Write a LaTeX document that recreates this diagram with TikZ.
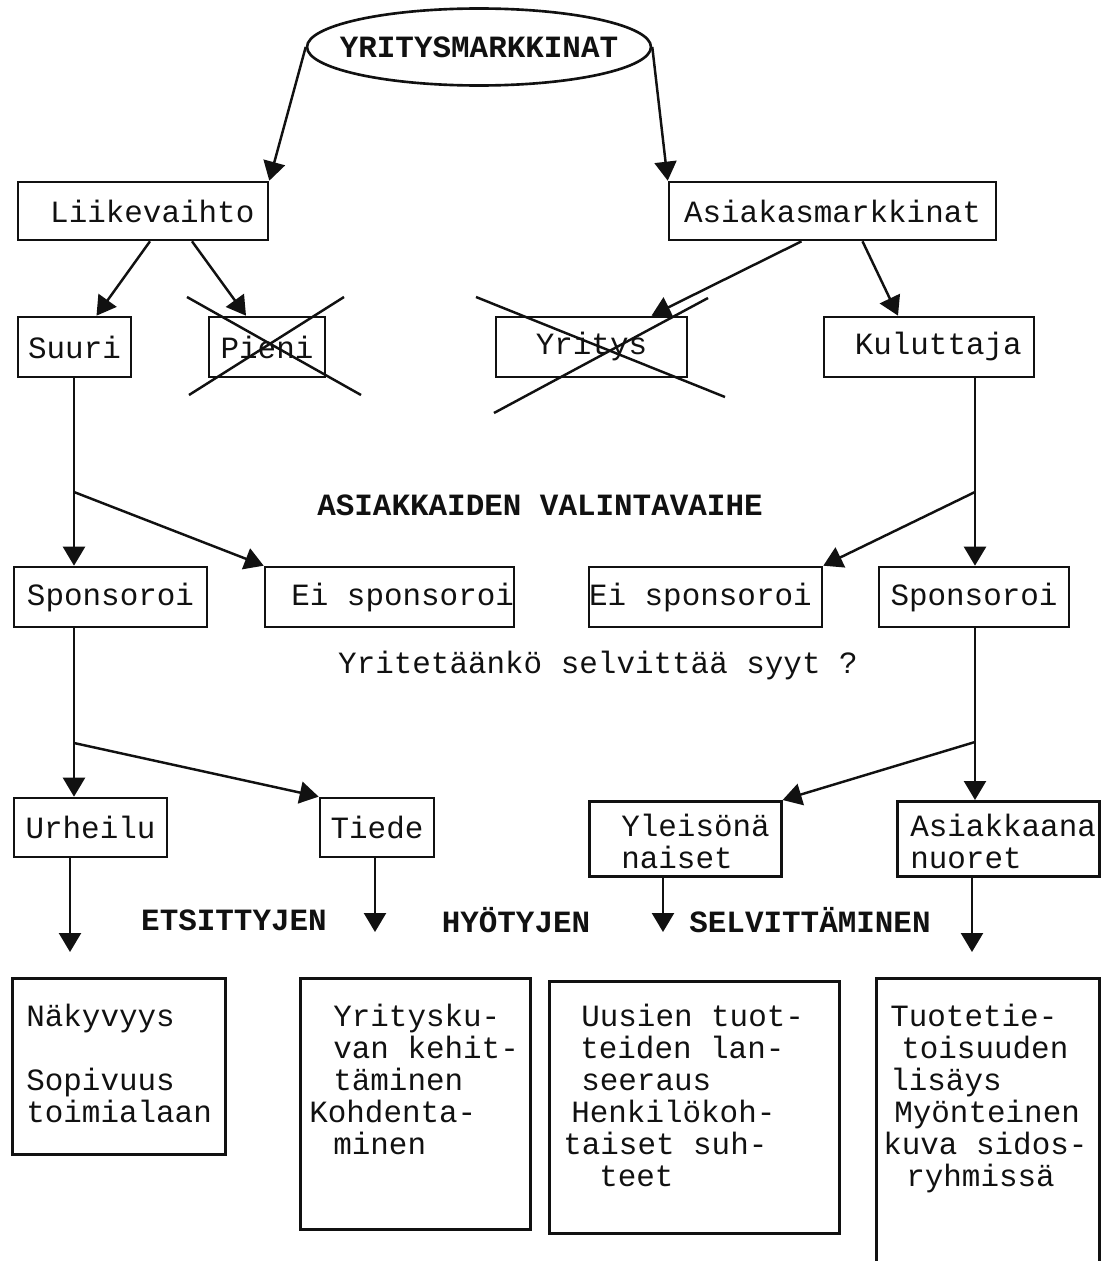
\documentclass[tikz,border=0pt]{standalone}
\usepackage{fontspec}
\usepackage{tikz}
\usetikzlibrary{arrows.meta,positioning,calc,shapes.geometric}
\newfontfamily\courier[WordSpace={1,0,0}]{Liberation Mono}
\definecolor{ink}{HTML}{111111}

\begin{document}
\begin{tikzpicture}[x=0.02cm,y=-0.02cm,
    box/.style={draw=ink,line width=1.5pt,inner sep=0pt,text=ink,font={\courier\fontsize{17.6}{18.2}\selectfont},
      execute at begin node={\spaceskip=0pt\xspaceskip=0pt}},
    plain/.style={inner sep=0pt,text=ink,font={\courier\fontsize{17.6}{18.2}\selectfont}},
    head/.style={inner sep=0pt,text=ink,font={\courier\bfseries\fontsize{17.6}{18.2}\selectfont}},
    multibox/.style={box,anchor=north west,align=left,text height=0.96cm},
    link/.style={draw=ink,line width=1.4pt},
    arr/.style={link,-{Triangle[length=0.38cm,width=0.44cm]}},
    cross/.style={draw=ink,line width=1.4pt}]
  \useasboundingbox (0,0) rectangle (1101,1261);
  \node[box,head,ellipse,minimum width=6.88cm,minimum height=1.54cm] (markk) at (479,47)
    {\makebox[4cm]{YRITYSMARKKINAT}};
  \node[box,minimum width=5cm,minimum height=1.16cm] (liike) at (143,211) {\ Liikevaihto};
  \node[box,minimum width=6.54cm,minimum height=1.16cm] (asiak) at (832.5,211) {Asiakasmarkkinat};
  \node[box,minimum width=2.26cm,minimum height=1.2cm] (suuri) at (74.5,347) {Suuri};
  \node[box,minimum width=2.32cm,minimum height=1.2cm] (pieni) at (267,347) {Pieni};
  \node[box,minimum width=3.82cm,minimum height=1.2cm] (yritys) at (591.5,347) {Yritys};
  \node[box,minimum width=4.2cm,minimum height=1.2cm] (kulu) at (929,347) {\ Kuluttaja};
  \node[box,minimum width=3.86cm,minimum height=1.2cm] (spL) at (110.5,597) {Sponsoroi};
  \node[box,text width=4.98cm,align=right,minimum height=1.2cm] (eiL) at (389.5,597) {Ei sponsoroi};
  \node[box,text width=4.66cm,align=left,minimum height=1.2cm] (eiR) at (705.5,597) {Ei sponsoroi};
  \node[box,minimum width=3.8cm,minimum height=1.2cm] (spR) at (974,597) {Sponsoroi};
  \node[box,minimum width=3.06cm,minimum height=1.18cm] (urh) at (90.5,827.5) {Urheilu};
  \node[box,minimum width=2.28cm,minimum height=1.18cm] (tiede) at (377,827.5) {Tiede};
  \node[multibox,text width=3.84cm,text height=0.7cm,text depth=0.8cm] (yleis) at (588,800)
    {\hspace*{0.64cm}Yleisönä\\\hspace*{0.64cm}naiset};
  \node[multibox,text width=4.04cm,text height=0.7cm,text depth=0.8cm] (asnuo) at (896,800)
    {\hspace*{0.26cm}Asiakkaana\\\hspace*{0.26cm}nuoret};

  \node[head] (valinta) at (540,505) {ASIAKKAIDEN VALINTAVAIHE};
  \node[plain] (syyt) at (598,665) {Yritetäänkö selvittää syyt ?};
  \node[head] (etsi) at (234,920) {ETSITTYJEN};
  \node[head] (hyoty) at (516,920) {HYÖTYJEN};
  \node[head] (selv) at (810,920) {SELVITTÄMINEN};

  \node[multibox,text width=4.26cm,text depth=2.56cm] (nak) at (11,977)
    {\hspace*{0.28cm}Näkyvyys\\[0.64cm]\hspace*{0.28cm}Sopivuus\\\hspace*{0.28cm}toimialaan};
  \node[multibox,text width=4.6cm,text depth=4.06cm] (yrk) at (299,977)
    {\hspace*{0.66cm}Yritysku-\\\hspace*{0.66cm}van kehit-\\\hspace*{0.66cm}täminen\\
     \hspace*{0.18cm}Kohdenta-\\\hspace*{0.66cm}minen};
  \node[multibox,text width=5.8cm,text height=0.9cm,text depth=4.14cm] (uus) at (548,980)
    {\hspace*{0.64cm}Uusien tuot-\\\hspace*{0.62cm}teiden lan-\\\hspace*{0.64cm}seeraus\\
     \hspace*{0.44cm}Henkilökoh-\\\hspace*{0.28cm}taiset suh-\\\hspace*{1cm}teet};
  \node[multibox,text width=4.46cm,text depth=5.56cm] (tuo) at (875,977)
    {\hspace*{0.28cm}Tuotetie-\\\hspace*{0.5cm}toisuuden\\\hspace*{0.28cm}lisäys\\
     \hspace*{0.36cm}Myönteinen\\\hspace*{0.14cm}kuva sidos-\\\hspace*{0.6cm}ryhmissä};

  \draw[arr] (markk.west) -- (liike.north east);
  \draw[arr] (markk.east) -- (asiak.north west);
  \draw[arr] ($(liike.south)+(7,0)$) -- ($(suuri.north)+(22,0)$);
  \draw[arr] ($(liike.south)+(49,0)$) -- ($(pieni.north)+(-21,0)$);
  \draw[arr] ($(asiak.south)+(-31,0)$) -- ($(yritys.north)+(60,0)$);
  \draw[arr] ($(asiak.south)+(30,0)$) -- ($(kulu.north)+(-31,0)$);

  \draw[cross] (189,395) -- (344,297);
  \draw[cross] (187,297) -- (361,395);
  \draw[cross] (476,297) -- (725,397);
  \draw[cross] (494,413) -- (708,298);

  \coordinate (splitA) at (74,492);
  \coordinate (splitB) at (975,492);
  \coordinate (splitC) at (74,743);
  \coordinate (splitD) at (975,742);
  \draw[link] (suuri.south -| splitA) -- (splitA);
  \draw[arr] (splitA) -- (splitA |- spL.north);
  \draw[arr] (splitA) -- (eiL.north west);
  \draw[link] (kulu.south -| splitB) -- (splitB);
  \draw[arr] (splitB) -- (splitB |- spR.north);
  \draw[arr] (splitB) -- (eiR.north east);
  \draw[link] (spL.south -| splitC) -- (splitC);
  \draw[arr] (splitC) -- (splitC |- urh.north);
  \draw[arr] (splitC) -- (tiede.north west);
  \draw[link] (spR.south -| splitD) -- (splitD);
  \draw[arr] (splitD) -- (splitD |- asnuo.north);
  \draw[arr] (splitD) -- (yleis.north east);

  \coordinate (endA) at (70,952);
  \coordinate (endB) at (375,932);
  \coordinate (endC) at (663,932);
  \coordinate (endD) at (972,952);
  \draw[arr] (urh.south -| endA) -- (endA);
  \draw[arr] (tiede.south -| endB) -- (endB);
  \draw[arr] (yleis.south -| endC) -- (endC);
  \draw[arr] (asnuo.south -| endD) -- (endD);
\end{tikzpicture}
\end{document}
